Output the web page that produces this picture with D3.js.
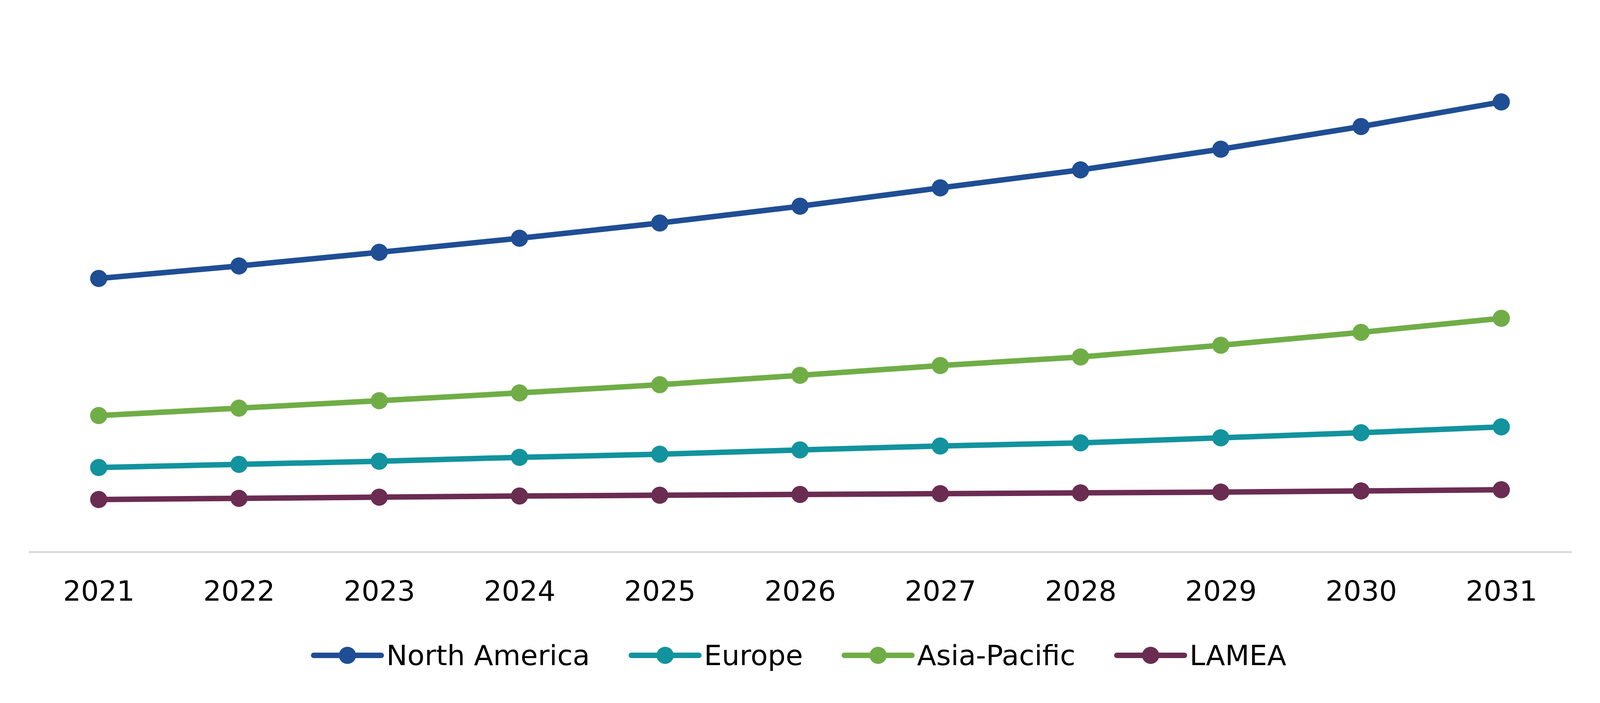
<!DOCTYPE html>
<html lang="en">
  <head>
    <meta charset="UTF-8" />
    <title>Regional market trend 2021-2031</title>
    <style>
      html, body { margin: 0; padding: 0; background: #fff; overflow: hidden; }
      svg { display: block; }
      text { font-family: "DejaVu Sans", Verdana, sans-serif; fill: #000; }
    </style>
  </head>
  <body>
    <svg id="svg"></svg>

    <script src="https://cdn.jsdelivr.net/npm/d3@7"></script>
    <script>
      // data (no y axis shown, units arbitrary)
      const years = ["2021", "2022", "2023", "2024", "2025", "2026", "2027", "2028", "2029", "2030", "2031"];
      const regions = ["North America", "Europe", "Asia-Pacific", "LAMEA"];
      const northAmerica = [7000, 7320, 7670, 8030, 8420, 8850, 9320, 9780, 10310, 10890, 11520];
      const europe = [2160, 2240, 2320, 2420, 2500, 2610, 2710, 2790, 2920, 3050, 3200];
      const asiaPacific = [3490, 3680, 3870, 4070, 4280, 4520, 4770, 4990, 5290, 5620, 5980];
      const lamea = [1340, 1370, 1400, 1430, 1450, 1470, 1490, 1510, 1530, 1560, 1590];
      const colors = ["#1f4e94", "#12939e", "#70ad47", "#6b2c52"];

      // the chart fills whatever window it gets; horizontal spacing is proportional
      const WIDTH = window.innerWidth || 5209;
      const HEIGHT = window.innerHeight || 1800;
      const sx = WIDTH / 5209;
      const sy = HEIGHT / 1800;
      const MARGIN = { top: 13 * sy, left: 93 * sx, right: 93 * sx, bottom: 387 * sy };
      const FONT = 72;
      const LINE_W = 14;
      const R = 22;

      const series = [northAmerica, europe, asiaPacific, lamea].map((vals, i) => ({
        name: regions[i],
        color: colors[i],
        values: vals.map((v, j) => ({ year: years[j], value: v })),
      }));

      const svg = d3.select("#svg").attr("width", WIDTH).attr("height", HEIGHT);

      const xScale = d3
        .scalePoint()
        .domain(years)
        .range([MARGIN.left, WIDTH - MARGIN.right])
        .padding(0.5);
      const yScale = d3
        .scaleLinear()
        .domain([0, 14000])
        .range([HEIGHT - MARGIN.bottom, MARGIN.top]);

      // x axis: light grey baseline, no ticks
      const xAxis = svg
        .append("g")
        .attr("transform", `translate(0, ${HEIGHT - MARGIN.bottom})`)
        .call(d3.axisBottom(xScale).tickSize(0).tickSizeOuter(0).tickPadding(125 * sy));
      xAxis.select(".domain").attr("stroke", "#d9d9d9").attr("stroke-width", 5);
      xAxis
        .selectAll(".tick text")
        .attr("font-size", FONT)
        .attr("font-family", '"DejaVu Sans", Verdana, sans-serif')
        .attr("fill", "#000")
        .attr("dy", 0);

      const line = d3
        .line()
        .x((d) => xScale(d.year))
        .y((d) => yScale(d.value));

      const groups = svg
        .selectAll("g.series")
        .data(series)
        .enter()
        .append("g")
        .attr("class", "series");

      groups
        .append("path")
        .attr("d", (d) => line(d.values))
        .attr("fill", "none")
        .attr("stroke", (d) => d.color)
        .attr("stroke-width", LINE_W)
        .attr("stroke-linejoin", "round");

      groups
        .selectAll("circle")
        .data((d) => d.values.map((v) => ({ ...v, color: d.color })))
        .enter()
        .append("circle")
        .attr("cx", (d) => xScale(d.year))
        .attr("cy", (d) => yScale(d.value))
        .attr("r", R)
        .attr("fill", (d) => d.color);

      // legend, centred under the chart
      const SYM_W = 173;
      const TEXT_GAP = 13;
      const ITEM_GAP = 106;
      const legendY = 1678 * sy;
      const legend = svg.append("g").attr("class", "legend");
      const items = legend
        .selectAll("g")
        .data(series)
        .enter()
        .append("g");

      items
        .append("line")
        .attr("x1", 0)
        .attr("x2", SYM_W)
        .attr("stroke", (d) => d.color)
        .attr("stroke-width", LINE_W)
        .attr("stroke-linecap", "round");
      items
        .append("circle")
        .attr("cx", SYM_W / 2)
        .attr("r", R)
        .attr("fill", (d) => d.color);
      items
        .append("text")
        .attr("x", SYM_W + TEXT_GAP)
        .attr("dy", "0.35em")
        .attr("font-size", FONT)
        .text((d) => d.name);

      let offset = 0;
      const offsets = [];
      items.each(function () {
        const w = SYM_W + TEXT_GAP + d3.select(this).select("text").node().getComputedTextLength();
        offsets.push(offset);
        offset += w + ITEM_GAP;
      });
      const totalW = offset - ITEM_GAP;
      const startX = (WIDTH - totalW) / 2;
      items.attr("transform", (d, i) => `translate(${startX + offsets[i]}, ${legendY})`);
    </script>
  </body>
</html>
